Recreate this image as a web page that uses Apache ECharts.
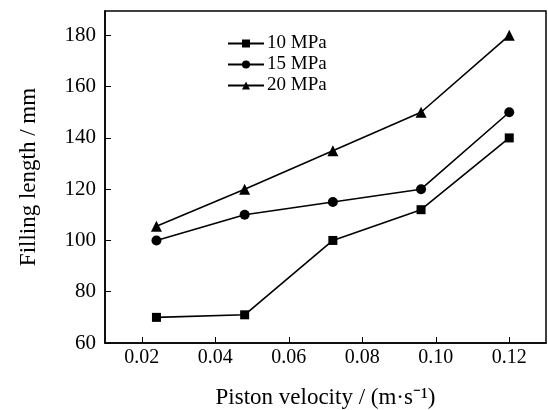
<!DOCTYPE html>
<html><head><meta charset="utf-8">
<script src="https://cdn.jsdelivr.net/npm/echarts@6/dist/echarts.min.js"></script>
<style>html,body{margin:0;padding:0;background:#fff}#c{width:548px;height:410px}</style>
</head><body><div id="c"></div>
<script>
const velocity = [0.024, 0.048, 0.072, 0.096, 0.12];
const len10 = [70, 71, 100, 112, 140];
const len15 = [100, 110, 115, 120, 150];
const len20 = [105.5, 120, 135, 150, 180];
const seriesNames = ['10 MPa', '15 MPa', '20 MPa'];
const xTicks = [0.02, 0.04, 0.06, 0.08, 0.10, 0.12];
const yTicks = [60, 80, 100, 120, 140, 160, 180];

const FONT = '"Liberation Serif", "Times New Roman", serif';
const chart = echarts.init(document.getElementById('c'));
function pts(ys){ return velocity.map((x,i)=>[x, ys[i]]); }
const symbols = ['rect', 'circle', 'triangle'];
const sizes = [9, 10, 11];
const data = [len10, len15, len20];
chart.setOption({
  animation: false,
  backgroundColor: '#fff',
  grid: {left: 105, right: 2, top: 11, bottom: 67, show: true, borderColor: '#000', borderWidth: 1.5,
    backgroundColor: 'transparent', containLabel: false, outerBoundsMode: 'none'},
  legend: {
    orient: 'vertical', left: 222, top: 29, itemWidth: 36, itemHeight: 10, itemGap: 2,
    textStyle: {fontFamily: FONT, fontSize: 19, lineHeight: 19, color: '#000', padding: [0,0,0,-2]},
    data: seriesNames
  },
  xAxis: {
    type: 'value', min: 0.01, max: 0.13,
    name: 'Piston velocity / (m·s⁻¹)', nameLocation: 'middle', nameGap: 43,
    nameTextStyle: {fontFamily: FONT, fontSize: 23, color: '#000'},
    axisLine: {lineStyle: {color: '#000', width: 1.5}},
    axisTick: {inside: true, length: 6, customValues: xTicks, lineStyle: {color: '#000'}},
    axisLabel: {customValues: xTicks, fontFamily: FONT, fontSize: 20, color: '#000', margin: 5,
      formatter: v => v.toFixed(2)},
    splitLine: {show: false}
  },
  yAxis: {
    type: 'value', min: 60, max: 189.5,
    name: 'Filling length / mm', nameLocation: 'middle', nameGap: 65,
    nameTextStyle: {fontFamily: FONT, fontSize: 23, color: '#000'},
    axisLine: {lineStyle: {color: '#000', width: 1.5}},
    axisTick: {inside: true, length: 6, customValues: yTicks, lineStyle: {color: '#000'}},
    axisLabel: {customValues: yTicks, fontFamily: FONT, fontSize: 21, color: '#000', margin: 9},
    splitLine: {show: false}
  },
  series: seriesNames.map((n,i)=>({
    name: n, type: 'line', data: pts(data[i]),
    symbol: symbols[i], symbolSize: sizes[i], showAllSymbol: true,
    lineStyle: {color: '#000', width: 1.6},
    itemStyle: {color: '#000'}
  }))
});
</script></body></html>
